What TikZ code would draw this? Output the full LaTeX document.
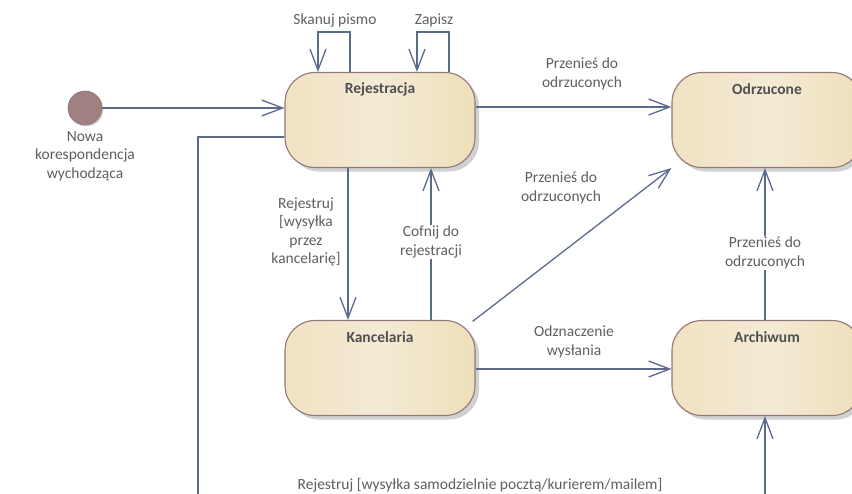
\documentclass[tikz,border=0pt]{standalone}
\usepackage{fontspec}
\setmainfont{Carlito}
\usetikzlibrary{arrows.meta,shadows}
\definecolor{edgec}{RGB}{92,107,140}
\definecolor{txtc}{RGB}{95,95,95}
\definecolor{titlec}{RGB}{80,80,80}
\definecolor{boxborder}{RGB}{146,120,120}
\definecolor{boxL}{RGB}{240,226,193}
\definecolor{boxM}{RGB}{244,235,214}
\definecolor{boxR}{RGB}{238,223,186}
\definecolor{initc}{RGB}{160,128,128}
\tikzset{
  statebox/.style={draw=boxborder, line width=1.1pt, rounded corners=30pt,
    minimum width=190pt, minimum height=95pt, inner sep=0pt,
    left color=boxL, right color=boxR, middle color=boxM, shading angle=90,
    general shadow={shadow xshift=4pt, shadow yshift=-4pt, fill=black!18}},
  titletxt/.style={font=\fontsize{15.5}{18.5}\selectfont\bfseries, text=titlec, inner sep=0pt},
  lbl/.style={font=\fontsize{15.5}{18.5}\selectfont, text=txtc, align=center, inner sep=1pt},
  trans/.style={draw=edgec, line width=1.3pt, -{Straight Barb[length=21pt,width=16pt]}},
  plain/.style={draw=edgec, line width=1.3pt},
}
\begin{document}
\begin{tikzpicture}[x=1pt,y=-1pt]
\useasboundingbox (0,0) rectangle (852,493);
\clip (0,0) rectangle (852,493);
\fill[white] (0,0) rectangle (852,493);

% states
\node[statebox] (reg) at (380,120) {};
\node[statebox] (kanc) at (380,368) {};
\node[statebox] (odrz) at (767,120) {};
\node[statebox] (arch) at (767,368) {};
\node[titletxt] (tReg) at (380,89) {Rejestracja};
\node[titletxt] (tKanc) at (380,337) {Kancelaria};
\node[titletxt] (tOdrz) at (767,89) {Odrzucone};
\node[titletxt] (tArch) at (767,337) {Archiwum};

% initial
\node[circle, fill=initc, draw=initc!90!black, line width=0.6pt, minimum size=34pt, inner sep=0pt,
  general shadow={shadow xshift=1.5pt, shadow yshift=-1.5pt, fill=black!15}] (init) at (85,108) {};
\node[lbl] (initlbl) at (85,156) {Nowa\\korespondencja\\wychodząca};

% coordinates
\coordinate (c1) at (198,137);
\coordinate (c2) at (198,520);
\coordinate (c3) at (765,520);
\coordinate (s1) at (350,32);
\coordinate (s2) at (318,32);
\coordinate (z1) at (449,32);
\coordinate (z2) at (417,32);

% initial -> Rejestracja
\draw[trans] (init) -- (reg.west |- init);

% self loops
\draw[trans] (reg.north -| s1) -- (s1) -- (s2) -- (reg.north -| s2);
\node[lbl] (lS) at (335,20) {Skanuj pismo};
\draw[trans] (reg.north -| z1) -- (z1) -- (z2) -- (reg.north -| z2);
\node[lbl] (lZ) at (434,20) {Zapisz};

% Rejestracja -> Odrzucone
\draw[trans] (reg.east |- 0,107) -- (odrz.west |- 0,107);
\node[lbl] (l1) at (582,74) {Przenieś do\\odrzuconych};

% Rejestracja -> Kancelaria
\draw[trans] (reg.south -| 348,0) -- (kanc.north -| 348,0);
\node[lbl] (l2) at (306,232) {Rejestruj\\{[wysyłka}\\przez\\kancelarię]};

% Kancelaria -> Rejestracja
\draw[trans] (kanc.north -| 431,0) -- (reg.south -| 431,0);
\node[lbl, fill=white] (l3) at (431,242) {Cofnij do\\rejestracji};

% Kancelaria -> Odrzucone
\draw[trans] ([xshift=-3pt,yshift=-1.5pt]kanc.north east) -- (odrz.south west);
\node[lbl] (l4) at (561,188) {Przenieś do\\odrzuconych};

% Kancelaria -> Archiwum
\draw[trans] (kanc.east |- 0,369) -- (arch.west |- 0,369);
\node[lbl] (l5) at (574,342) {Odznaczenie\\wysłania};

% Archiwum -> Odrzucone
\draw[trans] (arch.north -| 765,0) -- (odrz.south -| 765,0);
\node[lbl, fill=white] (l6) at (765,253) {Przenieś do\\odrzuconych};

% Rejestracja -> Archiwum (bottom route)
\draw[trans] (reg.west |- c1) -- (c1) -- (c2) -- (c3) -- (arch.south -| c3);
\node[lbl] (l7) at (480,485) {Rejestruj [wysyłka samodzielnie pocztą/kurierem/mailem]};
\end{tikzpicture}
\end{document}
